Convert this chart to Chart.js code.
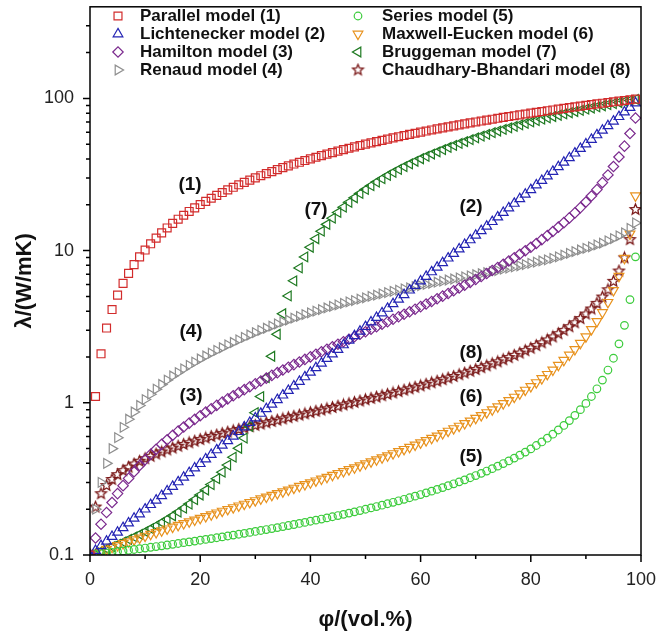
<!DOCTYPE html>
<html>
<head>
<meta charset="utf-8">
<script src="https://cdn.jsdelivr.net/npm/chart.js@4.4.0/dist/chart.umd.min.js"></script>
<style>
  html, body { margin: 0; padding: 0; background: #fff; }
  #wrap { width: 658px; height: 639px; position: relative; }
</style>
</head>
<body>
<div id="wrap"><canvas id="chart"></canvas></div>
<script>
// filler volume fraction, vol.%
const phi = [
  0,1,2,3,4,5,6,7,8,9, 10,11,12,13,14,15,16,17,18,19,
  20,21,22,23,24,25,26,27,28,29, 30,31,32,33,34,35,36,37,38,39,
  40,41,42,43,44,45,46,47,48,49, 50,51,52,53,54,55,56,57,58,59,
  60,61,62,63,64,65,66,67,68,69, 70,71,72,73,74,75,76,77,78,79,
  80,81,82,83,84,85,86,87,88,89, 90,91,92,93,94,95,96,97,98,99
];

// thermal conductivity, W/mK
const parallel = [
  0.1,1.1,2.1,3.1,4.1,5.1,6.09,7.09,8.09,9.09,
  10.09,11.09,12.09,13.09,14.09,15.09,16.08,17.08,18.08,19.08,
  20.08,21.08,22.08,23.08,24.08,25.08,26.07,27.07,28.07,29.07,
  30.07,31.07,32.07,33.07,34.07,35.07,36.06,37.06,38.06,39.06,
  40.06,41.06,42.06,43.06,44.06,45.06,46.05,47.05,48.05,49.05,
  50.05,51.05,52.05,53.05,54.05,55.05,56.04,57.04,58.04,59.04,
  60.04,61.04,62.04,63.04,64.04,65.04,66.03,67.03,68.03,69.03,
  70.03,71.03,72.03,73.03,74.03,75.03,76.02,77.02,78.02,79.02,
  80.02,81.02,82.02,83.02,84.02,85.02,86.01,87.01,88.01,89.01,
  90.01,91.01,92.01,93.01,94.01,95.01,96.0,97.0,98.0,99.0
];
const lichtenecker = [
  0.1,0.107,0.115,0.123,0.132,0.141,0.151,0.162,0.174,0.186,
  0.2,0.214,0.229,0.245,0.263,0.282,0.302,0.324,0.347,0.372,
  0.398,0.427,0.457,0.49,0.525,0.562,0.603,0.646,0.692,0.741,
  0.794,0.851,0.912,0.977,1.047,1.122,1.202,1.288,1.38,1.479,
  1.585,1.698,1.82,1.95,2.089,2.239,2.399,2.57,2.754,2.951,
  3.162,3.388,3.631,3.89,4.169,4.467,4.786,5.129,5.495,5.888,
  6.31,6.761,7.244,7.762,8.318,8.913,9.55,10.23,10.96,11.75,
  12.59,13.49,14.45,15.49,16.6,17.78,19.05,20.42,21.88,23.44,
  25.12,26.92,28.84,30.9,33.11,35.48,38.02,40.74,43.65,46.77,
  50.12,53.7,57.54,61.66,66.07,70.79,75.86,81.28,87.1,93.33
];
const hamilton = [
  0.1,0.1294,0.1594,0.19,0.2212,0.2531,0.2856,0.3187,0.3526,0.3872,
  0.4226,0.4587,0.4956,0.5333,0.5719,0.6113,0.6517,0.693,0.7353,0.7785,
  0.8229,0.8683,0.9148,0.9625,1.011,1.062,1.113,1.166,1.22,1.276,
  1.333,1.392,1.452,1.514,1.578,1.644,1.712,1.782,1.854,1.928,
  2.005,2.084,2.165,2.25,2.337,2.427,2.521,2.618,2.718,2.822,
  2.93,3.042,3.159,3.28,3.406,3.537,3.674,3.817,3.966,4.122,
  4.286,4.457,4.636,4.825,5.023,5.231,5.451,5.683,5.928,6.188,
  6.463,6.756,7.067,7.399,7.754,8.135,8.544,8.984,9.459,9.974,
  10.53,11.14,11.81,12.55,13.36,14.26,15.27,16.41,17.7,19.17,
  20.86,22.84,25.18,27.99,31.42,35.71,41.23,48.58,58.86,74.29
];
const renaud = [
  0.1,0.2,0.3,0.4,0.5,0.59,0.69,0.78,0.87,0.96,
  1.05,1.14,1.23,1.32,1.41,1.5,1.58,1.67,1.76,1.85,
  1.94,2.03,2.12,2.21,2.3,2.4,2.49,2.59,2.69,2.79,
  2.89,2.99,3.09,3.19,3.3,3.4,3.5,3.6,3.7,3.8,
  3.9,4.0,4.1,4.2,4.3,4.4,4.5,4.6,4.7,4.8,
  4.9,5.0,5.1,5.2,5.3,5.4,5.5,5.6,5.7,5.8,
  5.9,6.0,6.1,6.2,6.3,6.41,6.51,6.62,6.72,6.83,
  6.94,7.05,7.16,7.28,7.4,7.55,7.68,7.81,7.95,8.1,
  8.25,8.4,8.55,8.7,8.9,9.1,9.35,9.6,9.85,10.1,
  10.35,10.6,10.9,11.2,11.6,12.0,12.5,13.1,14.0,15.2
];
const series = [
  0.1,0.101,0.102,0.1031,0.1042,0.1053,0.1064,0.1075,0.1087,0.1099,
  0.1111,0.1124,0.1136,0.1149,0.1163,0.1176,0.119,0.1205,0.1219,0.1234,
  0.125,0.1266,0.1282,0.1298,0.1315,0.1333,0.1351,0.1369,0.1388,0.1408,
  0.1428,0.1449,0.147,0.1492,0.1514,0.1538,0.1562,0.1586,0.1612,0.1638,
  0.1666,0.1694,0.1723,0.1753,0.1784,0.1817,0.185,0.1885,0.1921,0.1959,
  0.1998,0.2039,0.2081,0.2125,0.2171,0.222,0.227,0.2323,0.2378,0.2436,
  0.2496,0.256,0.2627,0.2698,0.2773,0.2852,0.2936,0.3024,0.3118,0.3219,
  0.3326,0.344,0.3562,0.3694,0.3835,0.3988,0.4154,0.4333,0.4529,0.4744,
  0.498,0.5241,0.553,0.5854,0.6217,0.6629,0.7099,0.7641,0.8273,0.9018,
  0.9911,1.1,1.236,1.41,1.641,1.963,2.441,3.229,4.766,9.099
];
const maxwell = [
  0.1,0.103,0.1061,0.1093,0.1125,0.1157,0.1191,0.1225,0.126,0.1296,
  0.1332,0.137,0.1408,0.1447,0.1487,0.1528,0.1569,0.1612,0.1656,0.1701,
  0.1747,0.1794,0.1843,0.1893,0.1944,0.1996,0.205,0.2105,0.2162,0.222,
  0.228,0.2342,0.2406,0.2471,0.2538,0.2608,0.268,0.2754,0.283,0.2909,
  0.299,0.3074,0.3161,0.3251,0.3345,0.3441,0.3541,0.3645,0.3753,0.3865,
  0.3982,0.4103,0.423,0.4361,0.4499,0.4642,0.4792,0.4949,0.5113,0.5286,
  0.5466,0.5656,0.5856,0.6067,0.6289,0.6524,0.6773,0.7036,0.7316,0.7613,
  0.7931,0.827,0.8632,0.9022,0.9441,0.9893,1.038,1.091,1.149,1.213,
  1.282,1.359,1.444,1.539,1.646,1.767,1.904,2.062,2.246,2.463,
  2.721,3.035,3.425,3.922,4.576,5.477,6.797,8.917,12.88,22.94
];
const bruggeman = [
  0.1,0.1031,0.1064,0.1099,0.1136,0.1176,0.1219,0.1265,0.1314,0.1368,
  0.1426,0.149,0.1559,0.1635,0.1719,0.1811,0.1915,0.203,0.2161,0.2309,
  0.2478,0.2674,0.2903,0.3174,0.35,0.3898,0.4394,0.5029,0.5863,0.6999,
  0.8611,1.0998,1.465,2.023,2.821,3.847,5.039,6.334,7.693,9.092,
  10.52,11.96,13.41,14.87,16.34,17.81,19.29,20.77,22.25,23.74,
  25.22,26.71,28.2,29.69,31.18,32.67,34.16,35.66,37.15,38.64,
  40.14,41.63,43.12,44.62,46.11,47.61,49.1,50.6,52.09,53.59,
  55.09,56.58,58.08,59.58,61.07,62.57,64.06,65.56,67.06,68.56,
  70.05,71.55,73.05,74.54,76.04,77.54,79.03,80.53,82.03,83.53,
  85.02,86.52,88.02,89.52,91.01,92.51,94.01,95.51,97.0,98.5
];
const chaudhary = [
  0.1,0.2067,0.2527,0.2861,0.3134,0.3371,0.3583,0.3778,0.396,0.4132,
  0.4297,0.4455,0.4609,0.4757,0.4903,0.5046,0.5187,0.5327,0.5463,0.56,
  0.5736,0.5872,0.6007,0.6142,0.6278,0.6413,0.6551,0.6688,0.6826,0.6968,
  0.7108,0.725,0.7395,0.7541,0.7689,0.784,0.7992,0.8147,0.8304,0.8465,
  0.8628,0.8795,0.8966,0.9139,0.9316,0.9498,0.9684,0.9875,1.007,1.027,
  1.048,1.069,1.091,1.113,1.137,1.16,1.185,1.211,1.237,1.265,
  1.293,1.323,1.354,1.386,1.419,1.454,1.49,1.529,1.569,1.611,
  1.655,1.702,1.751,1.804,1.859,1.919,1.982,2.05,2.122,2.201,
  2.285,2.377,2.478,2.588,2.709,2.844,2.994,3.163,3.355,3.576,
  3.833,4.137,4.503,4.954,5.527,6.285,7.345,8.962,11.81,18.62
];

const seriesLabels = [
  'Parallel model (1)', 'Lichtenecker model (2)', 'Hamilton model (3)', 'Renaud model (4)',
  'Series model (5)', 'Maxwell-Eucken model (6)', 'Bruggeman model (7)', 'Chaudhary-Bhandari model (8)'
];
const seriesValues = [parallel, lichtenecker, hamilton, renaud, series, maxwell, bruggeman, chaudhary];

const xTickValues = [0, 20, 40, 60, 80, 100];
const xMinorTicks = [10, 30, 50, 70, 90];
const yTickValues = [0.1, 1, 10, 100];
const yTickLabels = ['0.1', '1', '10', '100'];
const yMinorTicks = [0.2,0.3,0.4,0.5,0.6,0.7,0.8,0.9, 2,3,4,5,6,7,8,9, 20,30,40,50,60,70,80,90, 200,300];

const FONT = 'Arial, "Liberation Sans", sans-serif';

// 5-point star marker (Chart.js 'star' is an asterisk)
function makeStar(color, r) {
  const c = document.createElement('canvas');
  const s = Math.ceil(r * 2 + 3);
  c.width = s; c.height = s;
  const g = c.getContext('2d');
  g.strokeStyle = color;
  g.lineWidth = 1.3;
  g.beginPath();
  for (let k = 0; k < 10; k++) {
    const rr = k % 2 ? r * 0.45 : r;
    const a = -Math.PI / 2 + k * Math.PI / 5;
    const px = s / 2 + rr * Math.cos(a), py = s / 2 + rr * Math.sin(a);
    if (k) g.lineTo(px, py); else g.moveTo(px, py);
  }
  g.closePath();
  g.stroke();
  return c;
}

const styles = [
  { color: '#d22c2c', pointStyle: 'rect', radius: 5.6, rotation: 0 },
  { color: '#2424b4', pointStyle: 'triangle', radius: 5.6, rotation: 0 },
  { color: '#7b2a8e', pointStyle: 'rectRot', radius: 5.2, rotation: 0 },
  { color: '#8f8f8f', pointStyle: 'triangle', radius: 5.6, rotation: 90 },
  { color: '#3ccc3c', pointStyle: 'circle', radius: 3.8, rotation: 0 },
  { color: '#e8921e', pointStyle: 'triangle', radius: 5.6, rotation: 180 },
  { color: '#1f7a22', pointStyle: 'triangle', radius: 5.6, rotation: 270 },
  { color: '#7a1818', pointStyle: makeStar('#7a1818', 5.6), radius: 5.6, rotation: 0 }
];

const datasets = seriesValues.map((vals, i) => ({
  label: seriesLabels[i],
  data: phi.map((p, k) => ({ x: p, y: vals[k] })),
  showLine: false,
  pointStyle: styles[i].pointStyle,
  pointRadius: styles[i].radius,
  pointHoverRadius: styles[i].radius,
  pointRotation: styles[i].rotation,
  pointBorderColor: styles[i].color,
  pointBackgroundColor: 'rgba(0,0,0,0)',
  pointBorderWidth: 1.2,
  borderColor: styles[i].color,
  backgroundColor: 'rgba(0,0,0,0)'
}));

// frame and tick marks
const framePlugin = {
  id: 'frame',
  afterDatasetsDraw(chart) {
    const { ctx, chartArea: a, scales: { x, y } } = chart;
    ctx.save();
    ctx.strokeStyle = '#000';
    ctx.lineWidth = 1.5;
    ctx.strokeRect(a.left, a.top, a.right - a.left, a.bottom - a.top);
    ctx.beginPath();
    xTickValues.forEach(v => { const px = x.getPixelForValue(v); ctx.moveTo(px, a.bottom); ctx.lineTo(px, a.bottom + 7); });
    xMinorTicks.forEach(v => { const px = x.getPixelForValue(v); ctx.moveTo(px, a.bottom); ctx.lineTo(px, a.bottom + 4); });
    yTickValues.forEach(v => { const py = y.getPixelForValue(v); ctx.moveTo(a.left, py); ctx.lineTo(a.left - 7, py); });
    yMinorTicks.forEach(v => { const py = y.getPixelForValue(v); ctx.moveTo(a.left, py); ctx.lineTo(a.left - 4, py); });
    ctx.stroke();
    ctx.restore();
  }
};

// two-column legend and curve numbers
const legendPlugin = {
  id: 'legendCols',
  afterDraw(chart) {
    const ctx = chart.ctx;
    ctx.save();
    ctx.font = 'bold 17px ' + FONT;
    ctx.textBaseline = 'middle';
    ctx.textAlign = 'left';
    seriesLabels.forEach((lab, i) => {
      const col = i < 4 ? 0 : 1;
      const row = i % 4;
      const yy = 16 + row * 18;
      const mx = col ? 358 : 118;
      const tx = col ? 382 : 140;
      const st = styles[i];
      ctx.strokeStyle = st.color;
      ctx.fillStyle = 'rgba(0,0,0,0)';
      ctx.lineWidth = 1.2;
      Chart.helpers.drawPoint(ctx, { pointStyle: st.pointStyle, radius: st.radius, rotation: st.rotation, borderWidth: 1.2 }, mx, yy);
      ctx.fillStyle = '#111';
      ctx.fillText(lab, tx, yy);
    });
    ctx.font = 'bold 19px ' + FONT;
    ctx.textAlign = 'center';
    ctx.fillStyle = '#111';
    [['(1)', 190, 185], ['(7)', 316, 210], ['(2)', 471, 207], ['(4)', 191, 332],
     ['(3)', 191, 396], ['(8)', 471, 353], ['(6)', 471, 397], ['(5)', 471, 457]]
      .forEach(([t, px, py]) => ctx.fillText(t, px, py));
    ctx.restore();
  }
};

new Chart(document.getElementById('chart'), {
  type: 'scatter',
  data: { datasets },
  options: {
    responsive: true,
    maintainAspectRatio: false,
    animation: false,
    devicePixelRatio: 1,
    layout: { padding: { left: 0, right: 17, top: 2, bottom: 0 } },
    plugins: { legend: { display: false }, tooltip: { enabled: false } },
    scales: {
      x: {
        type: 'linear',
        min: 0, max: 100,
        afterFit: s => { s.height = 84; s.paddingLeft = 0; s.paddingRight = 0; },
        afterBuildTicks: s => { s.ticks = xTickValues.map(v => ({ value: v })); },
        ticks: { font: { size: 18, family: FONT }, color: '#222', padding: 6, maxRotation: 0 },
        grid: { display: false, drawTicks: true, tickLength: 8 },
        border: { display: false },
        title: { display: true, text: 'φ/(vol.%)', color: '#111', font: { size: 22, weight: 'bold', family: FONT }, padding: { top: 0, bottom: 6 } }
      },
      y: {
        type: 'logarithmic',
        min: 0.1, max: 400,
        afterFit: s => { s.width = 90; s.paddingTop = 0; s.paddingBottom = 0; },
        afterBuildTicks: s => { s.ticks = yTickValues.map(v => ({ value: v, major: true })); },
        ticks: { font: { size: 18, family: FONT }, color: '#222', padding: 8, autoSkip: false,
                 callback: (v, i) => yTickLabels[i] },
        grid: { display: false, drawTicks: true, tickLength: 8 },
        border: { display: false },
        title: { display: true, text: 'λ/(W/mK)', color: '#111', font: { size: 22, weight: 'bold', family: FONT }, padding: { top: 12, bottom: 0 } }
      }
    }
  },
  plugins: [framePlugin, legendPlugin]
});
</script>
</body>
</html>
